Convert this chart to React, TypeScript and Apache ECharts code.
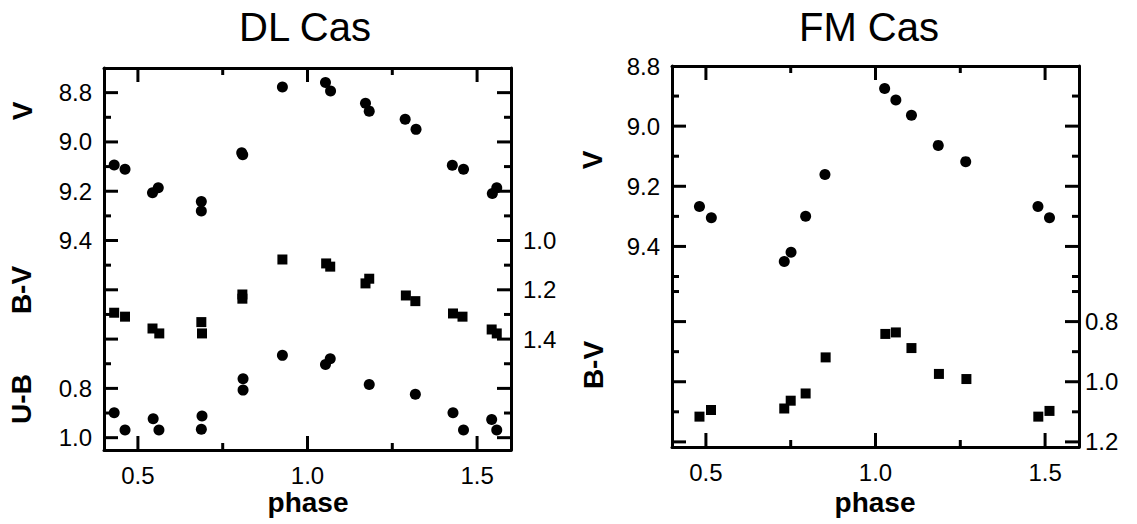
import React, { useEffect, useRef } from "react";
import * as echarts from "echarts";

// ---------- DL Cas ----------
const dlPhaseV = [0.430, 0.462, 0.543, 0.560, 0.687, 0.687, 0.806, 0.809, 0.926, 1.053, 1.068, 1.171, 1.182, 1.288, 1.320, 1.427, 1.460, 1.545, 1.558];
const dlV = [9.094, 9.111, 9.206, 9.186, 9.242, 9.280, 9.044, 9.052, 8.777, 8.759, 8.793, 8.843, 8.875, 8.908, 8.949, 9.095, 9.111, 9.209, 9.186];

const dlPhaseBV = [0.430, 0.462, 0.543, 0.563, 0.687, 0.689, 0.808, 0.808, 0.926, 1.055, 1.067, 1.171, 1.182, 1.290, 1.318, 1.429, 1.457, 1.543, 1.558];
const dlBV = [1.293, 1.309, 1.357, 1.377, 1.331, 1.377, 1.219, 1.236, 1.077, 1.093, 1.106, 1.174, 1.155, 1.223, 1.246, 1.296, 1.309, 1.361, 1.377];

const dlPhaseUB = [0.430, 0.462, 0.545, 0.562, 0.689, 0.687, 0.810, 0.810, 0.926, 1.053, 1.067, 1.182, 1.318, 1.429, 1.460, 1.543, 1.558];
const dlUB = [0.899, 0.969, 0.923, 0.969, 0.912, 0.966, 0.761, 0.807, 0.666, 0.703, 0.680, 0.784, 0.824, 0.899, 0.969, 0.926, 0.969];

// ---------- FM Cas ----------
const fmPhaseV = [0.481, 0.516, 0.731, 0.751, 0.794, 0.851, 1.027, 1.060, 1.106, 1.185, 1.266, 1.479, 1.513];
const fmV = [9.267, 9.305, 9.450, 9.419, 9.300, 9.161, 8.875, 8.913, 8.964, 9.064, 9.118, 9.267, 9.305];

const fmPhaseBV = [0.481, 0.515, 0.731, 0.750, 0.794, 0.853, 1.029, 1.060, 1.106, 1.187, 1.268, 1.480, 1.513];
const fmBV = [1.116, 1.094, 1.089, 1.063, 1.039, 0.919, 0.841, 0.836, 0.888, 0.974, 0.991, 1.116, 1.097];

// ---------- ticks & labels ----------
const xMajor = [0.5, 1.0, 1.5];
const xMinor = [0.75, 1.25];

const dlVLabels = [8.8, 9.0, 9.2, 9.4];
const dlUBLabels = [0.8, 1.0];
const dlBVLabels = [1.0, 1.2, 1.4];
const dlMajorTicks = [8.8, 9.0, 9.2, 9.4, 9.6, 9.8, 10.0, 10.2];
const dlMinorTicks = [8.9, 9.1, 9.3, 9.5, 9.7, 9.9, 10.1];

const fmVLabels = [8.8, 9.0, 9.2, 9.4];
const fmBVLabels = [0.8, 1.0, 1.2];
const fmVMajor = [9.0, 9.2, 9.4];
const fmVMinor = [8.9, 9.1, 9.3, 9.5];
const fmBVMajor = [0.8, 1.0, 1.2];
const fmBVMinor = [0.7, 0.9, 1.1];

// axis ranges
const X_RANGE = [0.4, 1.6];
const DL_V_RANGE = [8.7, 10.25];
const DL_BV_RANGE = [0.3, 1.85];
const DL_UB_RANGE = [-0.5, 1.05];
const FM_V_RANGE = [8.8, 10.067];
const FM_BV_RANGE = [-0.05, 1.217];

const FONT = "'Liberation Sans', Arial, sans-serif";
const BLACK = "#000";
const MAJOR = 14;
const MINOR = 7;

type AxOpts = { line?: boolean; labels?: number[]; margin?: number };

function axis(gridIndex: number, position: string, range: number[], inverse: boolean, o: AxOpts) {
  return {
    type: "value",
    gridIndex,
    position,
    min: range[0],
    max: range[1],
    inverse,
    splitLine: { show: false },
    axisLine: { show: !!o.line, onZero: false, lineStyle: { color: BLACK, width: 3 } },
    axisTick: { show: false },
    axisLabel: o.labels
      ? {
          show: true,
          customValues: o.labels,
          margin: o.margin ?? 12,
          color: BLACK,
          fontSize: 24,
          lineHeight: 22,
          fontFamily: FONT,
          showMinLabel: true,
          showMaxLabel: true,
          formatter: (v: number) => Number(v).toFixed(1),
        }
      : { show: false },
  };
}

function pairs(xs: number[], ys: number[]) {
  return xs.map((x, i) => [x, ys[i]]);
}

export default function App() {
  const ref = useRef<HTMLDivElement>(null);
  useEffect(() => {
    if (!ref.current) return;
    const chart = echarts.init(ref.current, null, { renderer: "svg" });

    const xAxes = [
      axis(0, "bottom", X_RANGE, false, { line: true, labels: xMajor, margin: 14 }),
      axis(0, "top", X_RANGE, false, { line: true }),
      axis(1, "bottom", X_RANGE, false, { line: true, labels: xMajor, margin: 14 }),
      axis(1, "top", X_RANGE, false, { line: true }),
    ];

    const yAxes = [
      axis(0, "left", DL_V_RANGE, true, { line: true, labels: dlVLabels, margin: 12 }),
      axis(0, "left", DL_UB_RANGE, true, { labels: dlUBLabels, margin: 12 }),
      axis(0, "right", DL_V_RANGE, true, { line: true }),
      axis(0, "right", DL_BV_RANGE, true, { labels: dlBVLabels, margin: 12 }),
      axis(1, "left", FM_V_RANGE, true, { line: true, labels: fmVLabels, margin: 12 }),
      axis(1, "right", FM_V_RANGE, true, { line: true }),
      axis(1, "right", FM_BV_RANGE, true, { labels: fmBVLabels, margin: 6 }),
    ];

    const scatter = (name: string, x: number, y: number, data: number[][], symbol: string, size: number) => ({
      name,
      type: "scatter",
      xAxisIndex: x,
      yAxisIndex: y,
      data,
      symbol,
      symbolSize: size,
      itemStyle: { color: BLACK, opacity: 1 },
      silent: true,
    });

    const text = (t: string, x: number, y: number, size: number, bold: boolean, rotate = false) => ({
      type: "text",
      x,
      y,
      z: 100,
      rotation: rotate ? Math.PI / 2 : 0,
      style: {
        text: t,
        fontSize: size,
        fontWeight: bold ? "bold" : "normal",
        fontFamily: FONT,
        fill: BLACK,
        align: "center",
        verticalAlign: "middle",
      },
    });

    chart.setOption({
      animation: false,
      backgroundColor: "#fff",
      grid: [
        { left: 104, top: 68, width: 407, height: 382 },
        { left: 672, top: 66, width: 407, height: 381 },
      ],
      xAxis: xAxes,
      yAxis: yAxes,
      series: [
        scatter("DL V", 0, 0, pairs(dlPhaseV, dlV), "circle", 11),
        scatter("DL B-V", 0, 3, pairs(dlPhaseBV, dlBV), "rect", 10),
        scatter("DL U-B", 0, 1, pairs(dlPhaseUB, dlUB), "circle", 11),
        scatter("FM V", 2, 4, pairs(fmPhaseV, fmV), "circle", 11),
        scatter("FM B-V", 2, 6, pairs(fmPhaseBV, fmBV), "rect", 10),
      ],
    });

    // ticks: positioned through the axes' own scales
    const tickEls: any[] = [];
    const seg = (x1: number, y1: number, x2: number, y2: number) =>
      tickEls.push({
        type: "line",
        z: 100,
        shape: { x1, y1, x2, y2 },
        style: { stroke: BLACK, lineWidth: 3 },
      });
    const px = (xi: number, yi: number, p: number[]) =>
      chart.convertToPixel({ xAxisIndex: xi, yAxisIndex: yi } as any, p) as unknown as number[];

    const yT = (xi: number, yi: number, values: number[], len: number) => {
      values.forEach((v) => {
        const l = px(xi, yi, [X_RANGE[0], v]);
        const r = px(xi, yi, [X_RANGE[1], v]);
        seg(l[0], l[1], l[0] + len, l[1]);
        seg(r[0], r[1], r[0] - len, r[1]);
      });
    };
    const xT = (xi: number, yi: number, values: number[], len: number, yRange: number[]) => {
      values.forEach((v) => {
        const a = px(xi, yi, [v, yRange[0]]);
        const b = px(xi, yi, [v, yRange[1]]);
        const s = b[1] > a[1] ? 1 : -1;
        seg(a[0], a[1], a[0], a[1] + s * len);
        seg(b[0], b[1], b[0], b[1] - s * len);
      });
    };

    yT(0, 0, dlMajorTicks, MAJOR);
    yT(0, 0, dlMinorTicks, MINOR);
    xT(0, 0, xMajor, MAJOR, DL_V_RANGE);
    xT(0, 0, xMinor, MINOR, DL_V_RANGE);
    yT(2, 4, fmVMajor, MAJOR);
    yT(2, 4, fmVMinor, MINOR);
    yT(2, 6, fmBVMajor, MAJOR);
    yT(2, 6, fmBVMinor, MINOR);
    xT(2, 4, xMajor, MAJOR, FM_V_RANGE);
    xT(2, 4, xMinor, MINOR, FM_V_RANGE);

    chart.setOption({
      graphic: [
        text("DL Cas", 305, 27, 40, false),
        text("FM Cas", 869, 27, 40, false),
        text("phase", 308, 502, 28, true),
        text("phase", 875, 502, 28, true),
        text("V", 22, 111, 28, true, true),
        text("B-V", 21, 290, 28, true, true),
        text("U-B", 21, 399, 28, true, true),
        text("V", 592, 160, 28, true, true),
        text("B-V", 593, 365, 28, true, true),
        ...tickEls,
      ],
    });
    return () => chart.dispose();
  }, []);
  return (
    <div
      ref={ref}
      style={{ position: "absolute", left: 0, top: 0, width: 1137, height: 524, background: "#fff" }}
    />
  );
}
